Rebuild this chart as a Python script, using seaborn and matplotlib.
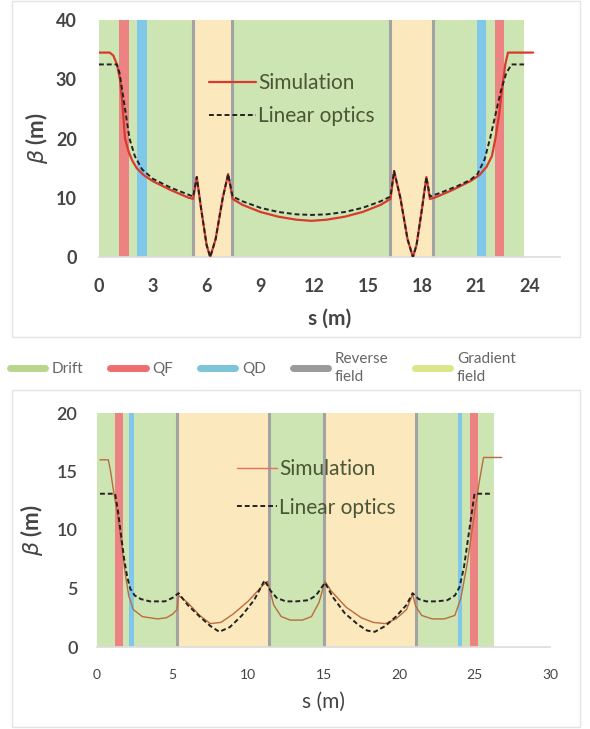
import numpy as np
import pandas as pd
import matplotlib.pyplot as plt
from matplotlib.lines import Line2D
from matplotlib.patches import Rectangle
import seaborn as sns

# ---- donnees ----
# panneau du haut
s_sim_top = [0, 0.6, 0.8, 1.0, 1.17, 1.3, 1.45, 1.65, 1.85, 2.1, 2.5, 3.0, 4.0, 5.0, 5.25,
             5.45, 5.7, 6.0, 6.2, 6.5, 6.9, 7.2, 7.45, 8.0, 9.0, 10.0, 11.0, 11.85,
             12.7, 13.7, 14.7, 15.7, 16.25, 16.45, 16.8, 17.2, 17.5, 17.7, 18.0, 18.25, 18.45,
             18.7, 19.7, 20.7, 21.2, 21.6, 21.9, 22.1, 22.3, 22.5, 22.65, 22.8, 24.2]
b_sim_top = [34.5, 34.5, 34.0, 32.5, 30, 26, 20, 17.8, 16.3, 15.0, 13.8, 12.8, 11.3, 10.0, 9.8,
             13.5, 8, 2, 0, 3, 10, 14, 9.8, 8.8, 7.6, 6.8, 6.3, 6.1,
             6.3, 6.8, 7.6, 8.8, 9.8, 14.5, 10, 3, 0, 2, 8, 13.5, 9.8,
             10.0, 11.3, 12.8, 13.8, 15.2, 17.0, 20, 24, 29, 32.5, 34.5, 34.5]

s_lin_top = [0, 1.0, 1.15, 1.3, 1.5, 1.7, 2.0, 2.4, 3.0, 4.0, 5.0, 5.25,
             5.45, 5.7, 6.0, 6.2, 6.5, 6.9, 7.2, 7.45, 8.0, 9.0, 10.0, 11.0, 11.85,
             12.7, 13.7, 14.7, 15.7, 16.25, 16.45, 16.8, 17.2, 17.5, 17.7, 18.0, 18.25, 18.45,
             19.0, 20.0, 20.7, 21.1, 21.5, 21.8, 22.1, 22.4, 22.7, 23.0, 23.7]
b_lin_top = [32.5, 32.5, 31, 28, 24, 20, 17, 14.8, 13.2, 11.7, 10.5, 10.2,
             13.5, 8, 2, 0, 3, 10, 14, 10.2, 9.4, 8.3, 7.6, 7.2, 7.1,
             7.2, 7.6, 8.3, 9.4, 10.2, 14.5, 10, 3, 0, 2, 8, 13.5, 10.2,
             10.8, 12.0, 13.0, 14.0, 16.5, 20, 24, 28, 31, 32.5, 32.5]

# panneau du bas
s_sim_bot = [0.2, 0.75, 0.9, 1.1, 1.3, 1.5, 1.7, 1.9, 2.1, 2.4, 3.0, 4.0, 4.6, 5.0, 5.3,
             5.4, 6.0, 6.8, 7.5, 8.2, 9.0, 10.0, 11.0, 11.3, 11.7, 12.2, 12.8, 13.6, 14.2,
             14.7, 15.1, 15.5, 16.5, 17.5, 18.3, 19.1, 19.8, 20.5, 20.9, 21.1, 21.5, 22.2,
             23.0, 23.7, 24.1, 24.5, 24.9, 25.3, 25.6, 26.8]
b_sim_bot = [16, 16, 15, 13.3, 11.8, 10.0, 8.0, 6.0, 4.4, 3.2, 2.6, 2.4, 2.5, 2.8, 3.2,
             4.4, 3.8, 2.7, 2.0, 2.1, 2.8, 3.9, 5.3, 5.6, 3.6, 2.6, 2.3, 2.3, 2.6,
             3.8, 5.6, 4.8, 3.4, 2.5, 2.1, 2.0, 2.4, 3.2, 4.5, 3.5, 2.7, 2.4,
             2.4, 2.7, 4.2, 7.0, 10.5, 14.0, 16.2, 16.2]

s_lin_bot = [0.2, 1.2, 1.4, 1.6, 1.8, 2.0, 2.2, 2.5, 2.9, 3.5, 4.5, 5.0, 5.4,
             6.0, 6.8, 7.5, 8.1, 8.8, 9.6, 10.4, 11.1, 11.5, 11.9, 12.5, 13.2, 14.0,
             14.5, 15.1, 15.6, 16.4, 17.3, 17.9, 18.4, 19.1, 19.8, 20.5, 20.9, 21.3,
             21.8, 22.5, 23.2, 23.7, 24.0, 24.3, 24.6, 25.0, 26.2]
b_lin_bot = [13.1, 13.1, 11.5, 9.5, 7.5, 6.0, 5.0, 4.4, 4.1, 3.9, 3.9, 4.2, 4.6,
             3.6, 2.6, 1.8, 1.3, 1.7, 2.7, 4.0, 5.7, 4.8, 4.2, 3.9, 3.9, 4.0,
             4.4, 5.5, 4.3, 2.9, 1.9, 1.4, 1.3, 1.8, 2.6, 3.6, 4.6, 4.1,
             3.9, 3.9, 4.0, 4.4, 5.1, 6.8, 9.5, 13.1, 13.1]

# elements du lattice (debut, fin) en m
drift_top = (0, 23.7)
qf_top = [(1.1, 1.67), (22.1, 22.6)]
qd_top = [(2.1, 2.7), (21.1, 21.6)]
grad_top = [(5.25, 7.4), (16.2, 18.6)]
rev_top = [5.25, 7.4, 16.2, 18.6]

drift_bot = (0, 26.3)
qf_bot = [(1.2, 1.7), (24.7, 25.2)]
qd_bot = [(2.1, 2.45), (23.9, 24.2)]
grad_bot = [(5.3, 11.4), (15.0, 21.1)]
rev_bot = [5.3, 11.4, 15.0, 21.1]

xticks_top = [0, 3, 6, 9, 12, 15, 18, 21, 24]
yticks_top = [0, 10, 20, 30, 40]
xticks_bot = [0, 5, 10, 15, 20, 25, 30]
yticks_bot = [0, 5, 10, 15, 20]

c_drift = '#cde4b3'
c_qf = '#ec8282'
c_qd = '#80c8ea'
c_rev = '#a3a3a3'
c_grad = '#fbe8bd'
c_sim_top = '#d83a2c'
c_sim_bot = '#bb6c3e'
c_lin = '#222222'
c_txt = '#444444'

sns.set_theme(style='white')
plt.rcParams['font.family'] = ['Lato', 'DejaVu Sans']

fig = plt.figure(figsize=(5.9, 7.29), dpi=100)

# cadres des deux images
fig.patches.append(Rectangle((12 / 590, 1 - 337 / 729), 568 / 590, 336 / 729, transform=fig.transFigure,
                             fill=False, ec='#e4e4e4', lw=1.0))
fig.patches.append(Rectangle((12 / 590, 1 - 727 / 729), 568 / 590, 337 / 729, transform=fig.transFigure,
                             fill=False, ec='#e4e4e4', lw=1.0))

ax1 = fig.add_axes([99 / 590, 1 - 257 / 729, 461 / 590, 237 / 729])
ax2 = fig.add_axes([97 / 590, 1 - 647 / 729, 453 / 590, 234 / 729])


def draw_lattice(ax, drift, qf, qd, grad, rev, lw_rev):
    ax.axvspan(drift[0], drift[1], color=c_drift, lw=0, zorder=0)
    for a, b in grad:
        ax.axvspan(a, b, color=c_grad, lw=0, zorder=0.5)
    for a, b in qf:
        ax.axvspan(a, b, color=c_qf, lw=0, zorder=0.6)
    for a, b in qd:
        ax.axvspan(a, b, color=c_qd, lw=0, zorder=0.6)
    for x in rev:
        ax.axvline(x, color=c_rev, lw=lw_rev, zorder=0.7)


# 1. panneau du haut
draw_lattice(ax1, drift_top, qf_top, qd_top, grad_top, rev_top, 2.2)
df_sim = pd.DataFrame({'s': s_sim_top, 'beta': b_sim_top})
df_lin = pd.DataFrame({'s': s_lin_top, 'beta': b_lin_top})
sns.lineplot(data=df_sim, x='s', y='beta', sort=False, color=c_sim_top, lw=1.6, ax=ax1,
             label='Simulation', zorder=3)
sns.lineplot(data=df_lin, x='s', y='beta', sort=False, color=c_lin, lw=1.4, ax=ax1,
             label='Linear optics', zorder=4)
ax1.lines[-1].set_dashes([2.5, 1.5])
ax1.set_xlim(0, 25.7)
ax1.set_ylim(0, 40)
ax1.set_xticks(xticks_top)
ax1.set_yticks(yticks_top)
ax1.tick_params(axis='x', labelsize=13, colors=c_txt, length=0, pad=15)
ax1.tick_params(axis='y', labelsize=13, colors=c_txt, length=0, pad=16)
for t in ax1.get_xticklabels() + ax1.get_yticklabels():
    t.set_fontweight('bold')
ax1.set_xlabel('s (m)', fontsize=15, fontweight='bold', color=c_txt, labelpad=10)
ax1.set_ylabel(r'$\beta$' + ' (m)', fontsize=16, fontweight='bold', color=c_txt, labelpad=4)
for sp in ['top', 'right', 'left']:
    ax1.spines[sp].set_visible(False)
ax1.spines['bottom'].set_color('#dddddd')
leg = ax1.legend(loc='upper left', bbox_to_anchor=(0.217, 0.82), frameon=False, fontsize=15,
                 handlelength=2.25, handletextpad=0.1, labelspacing=0.62, borderpad=0)
for t in leg.get_texts():
    t.set_color('#4a5636')

# 2. panneau du bas
draw_lattice(ax2, drift_bot, qf_bot, qd_bot, grad_bot, rev_bot, 2.2)
df_sim2 = pd.DataFrame({'s': s_sim_bot, 'beta': b_sim_bot})
df_lin2 = pd.DataFrame({'s': s_lin_bot, 'beta': b_lin_bot})
sns.lineplot(data=df_sim2, x='s', y='beta', sort=False, color=c_sim_bot, lw=1.0, ax=ax2,
             label='Simulation', zorder=3)
sns.lineplot(data=df_lin2, x='s', y='beta', sort=False, color=c_lin, lw=1.4, ax=ax2,
             label='Linear optics', zorder=4)
ax2.lines[-1].set_dashes([2.5, 1.5])
ax2.set_xlim(0, 30)
ax2.set_ylim(0, 20)
ax2.set_xticks(xticks_bot)
ax2.set_yticks(yticks_bot)
ax2.tick_params(axis='y', labelsize=13, colors=c_txt, length=0, pad=14)
ax2.tick_params(axis='x', labelsize=10, colors=c_txt, length=0, pad=16)
for t in ax2.get_yticklabels():
    t.set_fontweight('semibold')
ax2.set_xlabel('s (m)', fontsize=15, color=c_txt, labelpad=8)
ax2.set_ylabel(r'$\beta$' + ' (m)', fontsize=16, fontweight='bold', color=c_txt, labelpad=8)
for sp in ['top', 'right', 'left']:
    ax2.spines[sp].set_visible(False)
ax2.spines['bottom'].set_color('#dddddd')
leg2 = ax2.legend(loc='upper left', bbox_to_anchor=(0.285, 0.848), frameon=False, fontsize=15,
                  handlelength=1.95, handletextpad=0.1, labelspacing=0.9, borderpad=0)
leg2.get_lines()[0].set_color('#e8705a')
for t in leg2.get_texts():
    t.set_color('#4a5636')

# legende des elements entre les deux panneaux
handles = [Line2D([], [], color='#b9d68c', lw=5),
           Line2D([], [], color='#ee6e6e', lw=5),
           Line2D([], [], color='#7ec4d8', lw=5),
           Line2D([], [], color='#9a9a9a', lw=5),
           Line2D([], [], color='#dbe68a', lw=5)]
labels = ['Drift', 'QF', 'QD', 'Reverse\nfield', 'Gradient\nfield']
fleg = fig.legend(handles, labels, loc='center left', bbox_to_anchor=(10 / 590, 1 - 368 / 729), ncol=5,
                  frameon=False, fontsize=11, handlelength=2.3, handletextpad=0.45, columnspacing=1.75,
                  borderpad=0, borderaxespad=0)
for t in fleg.get_texts():
    t.set_color('#666666')
    t.set_linespacing(1.3)

fig.savefig('out.png', dpi=100)
